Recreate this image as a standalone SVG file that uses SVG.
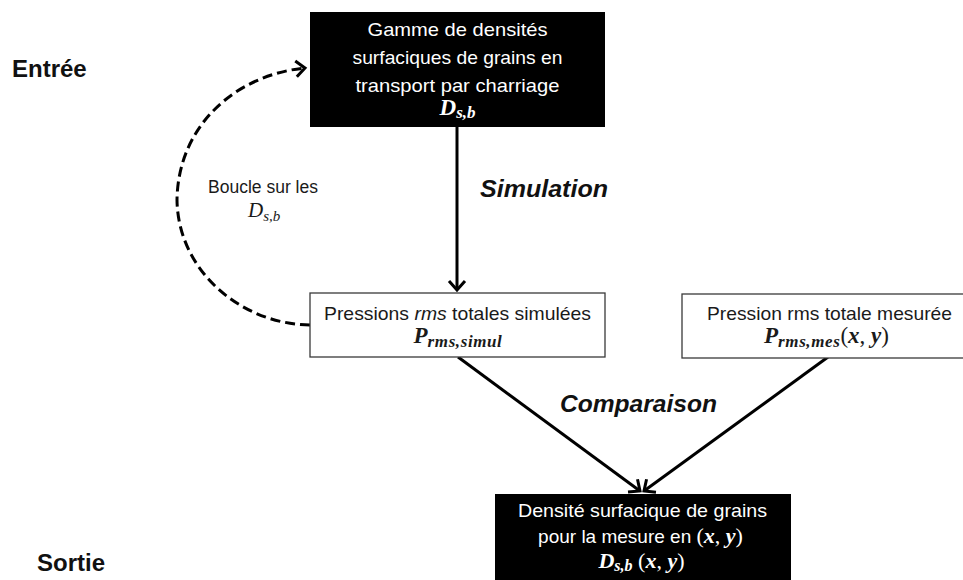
<svg xmlns="http://www.w3.org/2000/svg" width="963" height="580" viewBox="0 0 963 580">
  <style>
    .txt { font-family: "Liberation Sans", Arial, sans-serif; font-size: 19px; }
    .w { fill: #ffffff; }
    .k { fill: #1a1a1a; }
    .head { font-family: "Liberation Sans", Arial, sans-serif; font-size: 24px; font-weight: bold; fill: #111; }
    .lbl { font-family: "Liberation Sans", Arial, sans-serif; font-size: 24px; font-weight: bold; font-style: italic; fill: #111; }
    .m { font-family: "Liberation Serif", "Times New Roman", serif; font-weight: bold; font-style: italic; }
    .mr { font-family: "Liberation Serif", "Times New Roman", serif; font-weight: normal; font-style: normal; }
    .blk { fill: #000; stroke: none; }
    .wht { fill: #fff; stroke: #3a3a3a; stroke-width: 1.3; }
    .conn { fill: none; stroke: #000; stroke-width: 3; }
    .dash { fill: none; stroke: #000; stroke-width: 3; stroke-dasharray: 10 5; }
  </style>
  <defs>
    <marker id="arr" markerUnits="userSpaceOnUse" markerWidth="24" markerHeight="24" refX="12" refY="12" orient="auto" viewBox="0 0 24 24">
      <path d="M3,4 L12,12 L3,20" fill="none" stroke="#000" stroke-width="3"/>
    </marker>
  </defs>

  <rect width="963" height="580" fill="#fff"/>

  <text class="head" x="12" y="77">Entrée</text>
  <text class="head" x="37" y="571">Sortie</text>

  <g id="connectors">
    <path class="conn" d="M457,127 L457,290" marker-end="url(#arr)"/>
    <path class="conn" d="M458,357 L640,491" marker-end="url(#arr)"/>
    <path class="conn" d="M828,357 L644,491" marker-end="url(#arr)"/>
    <path class="dash" d="M310,325 C240,324 178,270 177,200 C178,126 235,75 305,68" marker-end="url(#arr)"/>
    <text class="lbl" x="480" y="197" textLength="128" lengthAdjust="spacingAndGlyphs">Simulation</text>
    <text class="lbl" x="560" y="412" textLength="157" lengthAdjust="spacingAndGlyphs">Comparaison</text>
    <text class="txt k" x="208" y="193" style="font-size:17.5px" textLength="110" lengthAdjust="spacingAndGlyphs">Boucle sur les</text>
    <text class="k" x="248" y="217"><tspan class="mr" style="font-style:italic;font-size:21px">D</tspan><tspan class="mr" style="font-style:italic;font-size:15px" dy="4">s,b</tspan></text>
  </g>

  <g id="node-gamme">
    <rect class="blk" x="310" y="12" width="295" height="115"/>
    <text class="txt w" x="457.5" y="36" text-anchor="middle" textLength="180" lengthAdjust="spacingAndGlyphs">Gamme de densités</text>
    <text class="txt w" x="457.5" y="64" text-anchor="middle" textLength="210" lengthAdjust="spacingAndGlyphs">surfaciques de grains en</text>
    <text class="txt w" x="457.5" y="92" text-anchor="middle" textLength="204" lengthAdjust="spacingAndGlyphs">transport par charriage</text>
    <text class="w" x="457.5" y="115" text-anchor="middle"><tspan class="m" style="font-size:23px">D</tspan><tspan class="m" style="font-size:17px" dy="3">s,b</tspan></text>
  </g>

  <g id="node-simul">
    <rect class="wht" x="310" y="293" width="295" height="64"/>
    <text class="txt k" x="457.5" y="320" text-anchor="middle" textLength="267" lengthAdjust="spacingAndGlyphs">Pressions <tspan font-style="italic">rms</tspan> totales simulées</text>
    <text class="k" x="458" y="343" text-anchor="middle"><tspan class="m" style="font-size:23px">P</tspan><tspan class="m" style="font-size:17px;letter-spacing:0.6px" dy="4">rms,simul</tspan></text>
  </g>

  <g id="node-mes">
    <rect class="wht" x="682" y="294" width="296" height="64"/>
    <text class="txt k" x="829.5" y="320" text-anchor="middle" textLength="245" lengthAdjust="spacingAndGlyphs">Pression rms totale mesurée</text>
    <text class="k" x="826.5" y="343" text-anchor="middle"><tspan class="m" style="font-size:23px">P</tspan><tspan class="m" style="font-size:17px;letter-spacing:0.6px" dy="4">rms,mes</tspan><tspan class="mr" style="font-size:23px" dy="-4">(</tspan><tspan class="m" style="font-size:23px">x</tspan><tspan class="mr" style="font-size:23px">, </tspan><tspan class="m" style="font-size:23px">y</tspan><tspan class="mr" style="font-size:23px">)</tspan></text>
  </g>

  <g id="node-densite">
    <rect class="blk" x="495" y="494" width="296" height="90"/>
    <text class="txt w" x="642.5" y="517" text-anchor="middle" textLength="249" lengthAdjust="spacingAndGlyphs">Densité surfacique de grains</text>
    <text class="w" x="640.5" y="543" text-anchor="middle"><tspan class="txt">pour la mesure en </tspan><tspan class="mr" style="font-size:22px">(</tspan><tspan class="m" style="font-size:22px">x</tspan><tspan class="mr" style="font-size:22px">, </tspan><tspan class="m" style="font-size:22px">y</tspan><tspan class="mr" style="font-size:22px">)</tspan></text>
    <text class="w" x="641.5" y="568" text-anchor="middle"><tspan class="m" style="font-size:22px">D</tspan><tspan class="m" style="font-size:16px" dy="3">s,b</tspan><tspan class="mr" style="font-size:22px" dy="-3"> (</tspan><tspan class="m" style="font-size:22px">x</tspan><tspan class="mr" style="font-size:22px">, </tspan><tspan class="m" style="font-size:22px">y</tspan><tspan class="mr" style="font-size:22px">)</tspan></text>
  </g>
</svg>
